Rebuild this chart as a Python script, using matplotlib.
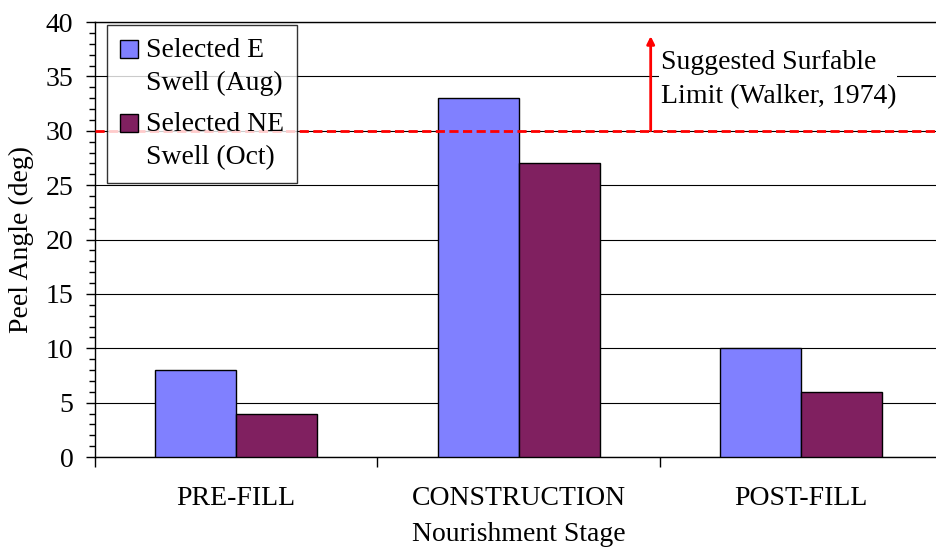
import matplotlib
matplotlib.use("Agg")
import matplotlib.pyplot as plt
from matplotlib.patches import Rectangle
from matplotlib.legend_handler import HandlerPatch
import numpy as np

categories = ["PRE-FILL", "CONSTRUCTION", "POST-FILL"]
series_names = ["Selected E\nSwell (Aug)", "Selected NE\nSwell (Oct)"]
e_swell = [8, 33, 10]
ne_swell = [4, 27, 6]
surf_limit = 30
colors = ["#8080FF", "#802060"]

plt.rcParams["font.family"] = ["Liberation Serif", "DejaVu Serif"]
FS = 20

fig = plt.figure(figsize=(9.36, 5.5), dpi=100)
ax = fig.add_axes([0.1015, 0.169, 0.905, 0.791])

x = np.arange(len(categories))
w = 0.287
ax.bar(x - w / 2, e_swell, w, color=colors[0], edgecolor="black", linewidth=1, zorder=3)
ax.bar(x + w / 2, ne_swell, w, color=colors[1], edgecolor="black", linewidth=1, zorder=3)

ax.set_xlim(-0.5, 2.5)
ax.set_ylim(0, 40)
ax.set_yticks(np.arange(0, 41, 5))
ax.set_yticks(np.arange(0, 41, 1), minor=True)
ax.yaxis.grid(True, color="black", linewidth=0.8, zorder=0)
ax.set_axisbelow(True)

ax.set_xticks([-0.5, 0.5, 1.5, 2.5])
ax.set_xticklabels([])
ax.tick_params(axis="x", which="major", direction="out", length=7, width=1)
ax.tick_params(axis="y", which="major", direction="out", length=6.5, width=1, labelsize=FS, pad=9)
ax.tick_params(axis="y", which="minor", direction="out", length=4, width=1)
for i, c in enumerate(categories):
    ax.text(i, -3.85, c, ha="center", va="center", fontsize=FS)
ax.text(1, -7.1, "Nourishment Stage", ha="center", va="center", fontsize=FS)
ax.set_ylabel("Peel Angle (deg)", fontsize=FS)
ax.yaxis.set_label_coords(-0.072, 0.5)

ax.spines["right"].set_visible(False)
for s in ["left", "bottom", "top"]:
    ax.spines[s].set_linewidth(1)

ax.plot([-0.5, 2.5], [surf_limit, surf_limit], color="red", linestyle=(0, (3.3, 1.6)), linewidth=2, zorder=4)
ax.annotate("", xy=(1.468, 38.7), xytext=(1.468, surf_limit),
            arrowprops=dict(arrowstyle="-|>", color="red", lw=2, mutation_scale=11, shrinkA=0, shrinkB=0), zorder=5)
ax.text(1.503, 34.7, "Suggested Surfable\nLimit (Walker, 1974)", ha="left", va="center", fontsize=FS,
        linespacing=1.45, bbox=dict(facecolor="white", edgecolor="none", pad=1), zorder=5)


class TopHandler(HandlerPatch):
    def create_artists(self, legend, orig_handle, xdescent, ydescent, width, height, fontsize, trans):
        p = Rectangle(xy=(-xdescent, -ydescent + 0.64 * fontsize), width=width, height=height,
                      facecolor=orig_handle.get_facecolor(), edgecolor="black", linewidth=1)
        p.set_transform(trans)
        return [p]


proxies = [Rectangle((0, 0), 1, 1, facecolor=c, edgecolor="black") for c in colors]
leg = ax.legend(proxies, series_names, loc="upper left", bbox_to_anchor=(0.0142, 0.993), fontsize=FS,
                frameon=True, fancybox=False,
                handlelength=0.65, handleheight=0.65, handletextpad=0.3, labelspacing=0.55,
                borderpad=0.45, borderaxespad=0,
                handler_map={Rectangle: TopHandler()})
for t in leg.get_texts():
    t.set_linespacing(1.45)
leg.get_frame().set_edgecolor("black")
leg.get_frame().set_linewidth(1)
leg.set_zorder(10)

fig.savefig("out.png", dpi=100)
